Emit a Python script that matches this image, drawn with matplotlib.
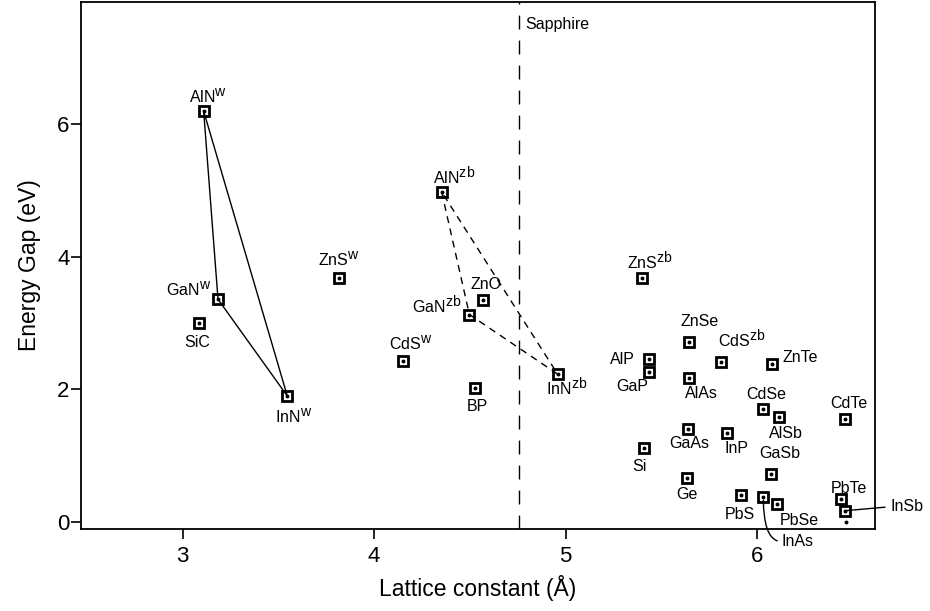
import matplotlib
matplotlib.use("Agg")
import matplotlib.pyplot as plt
try:
    import matplotlib._mathtext as _mt
    _mt.SHRINK_FACTOR = 0.88
except Exception:
    pass

plt.rcParams['font.family'] = ['Liberation Sans', 'DejaVu Sans']
plt.rcParams['mathtext.fontset'] = 'custom'
plt.rcParams['mathtext.rm'] = 'Liberation Sans'

# ---- data ----
materials = ['AlN$^\\mathregular{w}$', 'GaN$^\\mathregular{w}$', 'SiC', 'InN$^\\mathregular{w}$',
             'ZnS$^\\mathregular{w}$', 'AlN$^\\mathregular{zb}$', 'ZnO', 'GaN$^\\mathregular{zb}$',
             'CdS$^\\mathregular{w}$', 'BP', 'InN$^\\mathregular{zb}$', 'ZnS$^\\mathregular{zb}$',
             'ZnSe', 'AlP', 'GaP', 'CdS$^\\mathregular{zb}$', 'ZnTe', 'AlAs', 'CdSe', 'AlSb',
             'CdTe', 'GaAs', 'InP', 'Si', 'GaSb', 'Ge', 'PbS', 'InAs', 'PbSe', 'PbTe', 'InSb', '']
lattice = [3.11, 3.185, 3.086, 3.547, 3.817, 4.353, 4.571, 4.498, 4.153, 4.527, 4.959, 5.401,
           5.645, 5.438, 5.438, 5.810, 6.080, 5.643, 6.030, 6.115, 6.461, 5.638, 5.843, 5.411,
           6.071, 5.633, 5.916, 6.033, 6.106, 6.439, 6.460, 6.465]
gap = [6.20, 3.36, 3.00, 1.90, 3.68, 4.98, 3.35, 3.13, 2.43, 2.02, 2.23, 3.68,
       2.71, 2.46, 2.26, 2.42, 2.38, 2.17, 1.70, 1.58, 1.55, 1.41, 1.35, 1.11,
       0.73, 0.66, 0.41, 0.37, 0.27, 0.34, 0.17, 0.00]

wurtzite_triangle = [0, 1, 3, 0]     # AlN-GaN-InN (wurtzite)
zincblende_triangle = [5, 7, 10, 5]  # AlN-GaN-InN (zinc blende)
sapphire_a = 4.758
xticks = [3, 4, 5, 6]
yticks = [0, 2, 4, 6]

# label offsets in pixels (dx right, dy up) relative to the marker
label_offsets = [(4, 14), (-29, 10), (-2, -19), (6, -21), (0, 18), (12, 16), (3, 15),
                 (-33, 10), (7, 17), (2, -18), (9, -13), (8, 17), (11, 21), (-27, -1),
                 (-17, -14), (21, 23), (28, 7), (13, -15), (4, 15), (7, -16), (4, 16),
                 (1.5, -15), (10, -16), (-5, -18), (9, 20), (0.5, -16), (-1.5, -20),
                 (34, -44), (22, -16), (8, 11), (62, 4), (0, 0)]

fig = plt.figure(figsize=(9.3, 6.11), dpi=100)
ax = fig.add_axes([0.0868, 0.1342, 0.854, 0.863])

# triangles
ax.plot([lattice[i] for i in wurtzite_triangle], [gap[i] for i in wurtzite_triangle],
        color='black', lw=1.0, zorder=2)
ax.plot([lattice[i] for i in zincblende_triangle], [gap[i] for i in zincblende_triangle],
        color='black', lw=1.0, ls=(0, (5, 4)), zorder=2)

# sapphire line
ax.axvline(sapphire_a, color='black', lw=1.0, ls=(0, (10, 8)), zorder=1)
ax.text(sapphire_a + 0.03, 7.51, 'Sapphire', fontsize=11.5, ha='left', va='center')

# markers (all but last stray dot)
ax.plot(lattice[:-1], gap[:-1], ls='none', marker='s', ms=7, mew=2.0, mfc='none',
        mec='black', zorder=3)
ax.plot(lattice, gap, ls='none', marker='o', ms=1.8, color='black', zorder=4)

for i, (name, x, y) in enumerate(zip(materials, lattice, gap)):
    if not name:
        continue
    dx, dy = label_offsets[i]
    if name == 'InAs':
        ax.annotate(name, xy=(x, y), xytext=(dx, dy), textcoords='offset pixels',
                    ha='center', va='center', fontsize=11.5, annotation_clip=False,
                    arrowprops=dict(arrowstyle='-', color='black', lw=1.0,
                                    connectionstyle='angle3,angleA=0,angleB=90',
                                    shrinkA=1, shrinkB=2,
                                    relpos=(0.0, 0.5)))
    elif name == 'InSb':
        ax.annotate(name, xy=(x, y), xytext=(dx, dy), textcoords='offset pixels',
                    ha='center', va='center', fontsize=11.5, annotation_clip=False,
                    arrowprops=dict(arrowstyle='-', color='black', lw=1.0,
                                    shrinkA=2, shrinkB=0, relpos=(0.0, 0.5)))
    else:
        ax.annotate(name, xy=(x, y), xytext=(dx, dy), textcoords='offset pixels',
                    ha='center', va='center', fontsize=11.5, annotation_clip=False)

ax.set_xlim(2.468, 6.616)
ax.set_ylim(-0.106, 7.85)
ax.set_xticks(xticks)
ax.set_yticks(yticks)
ax.tick_params(axis='both', direction='out', length=7, width=1.2, labelsize=16)
ax.tick_params(axis='x', pad=5)
ax.tick_params(axis='y', pad=1)
for s in ax.spines.values():
    s.set_linewidth(1.3)

ax.set_xlabel('Lattice constant (Å)', fontsize=16.5, labelpad=6)
ax.set_ylabel('Energy Gap (eV)', fontsize=16.5, labelpad=12)

fig.savefig('out.png', dpi=100)
